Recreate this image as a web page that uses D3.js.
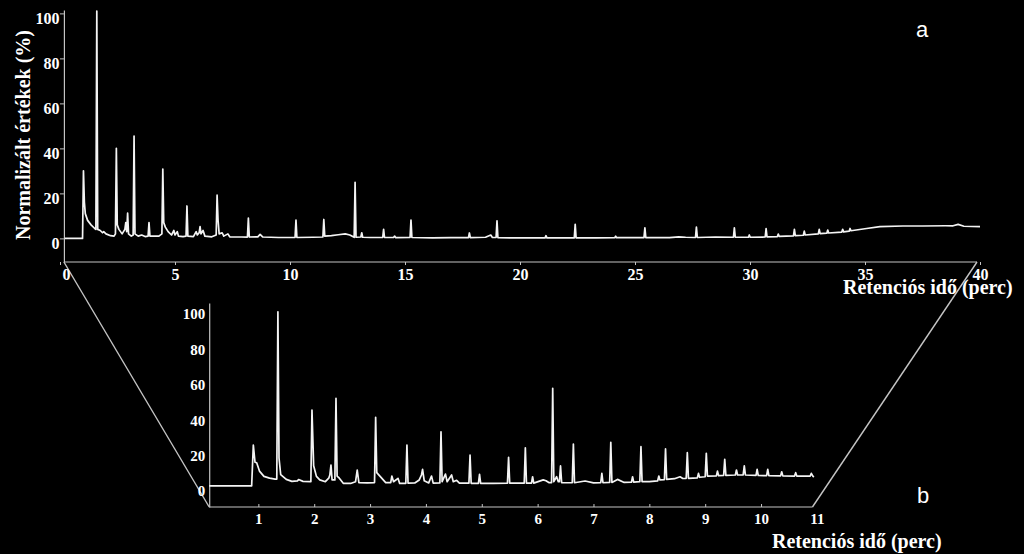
<!DOCTYPE html>
<html>
<head>
<meta charset="utf-8">
<script src="https://cdn.jsdelivr.net/npm/d3@7"></script>
<style>
  html, body { margin: 0; padding: 0; background: #000; }
  svg { display: block; }
  .tick text { fill: #fff; font-family: "Liberation Serif", "Times New Roman", serif; font-weight: bold; }
</style>
</head>
<body>
<svg id="chart" width="1024" height="554"></svg>
<script>
// ---------- DATA ----------
// Panel a: full chromatogram, [retention time (min), normalized value (%)]
const traceA = [
  [0.2,0],[0.98,0],[1.02,30],[1.06,16],[1.1,11],[1.2,8],[1.35,6],[1.5,4.5],[1.56,4],[1.6,101],[1.64,4],
  [1.75,3.5],[1.85,2.5],[1.9,3],[2.0,2],[2.2,1.2],[2.35,1],[2.41,2],[2.45,40],[2.49,6],[2.56,4],[2.7,2],
  [2.82,4],[2.86,7],[2.9,3],[2.94,11.2],[2.98,2],[3.1,1],[3.18,1.5],[3.22,45.5],[3.26,2],[3.4,1],[3.55,1.5],
  [3.7,0.8],[3.83,1],[3.87,7],[3.91,1],[4.1,1],[4.3,1],[4.43,2],[4.47,30.8],[4.51,7],[4.58,5],[4.7,3],
  [4.85,1.5],[4.95,3.5],[5.0,1.5],[5.1,3],[5.15,1],[5.35,0.8],[5.48,1],[5.52,14.4],[5.56,1],[5.8,0.8],
  [5.92,3],[5.97,1.5],[6.05,2.5],[6.09,5.2],[6.13,2],[6.22,3.5],[6.3,1],[6.6,0.7],[6.79,1.5],[6.83,19.2],
  [6.87,8.4],[6.92,2],[7.05,2.5],[7.12,1],[7.3,2],[7.38,0.7],[7.9,0.6],[8.15,0.6],[8.19,9],[8.23,0.6],
  [8.6,0.7],[8.7,1.8],[8.82,0.6],[9.5,0.4],[10.22,0.4],[10.26,8.1],[10.3,0.4],[11.0,0.5],[11.43,0.6],
  [11.47,8.4],[11.51,1],[11.8,1.2],[12.1,1.6],[12.4,2],[12.6,1.5],[12.79,0.5],[12.83,24.9],[12.87,0.5],
  [13.08,0.6],[13.12,2.5],[13.16,0.5],[13.5,0.4],[14.03,0.4],[14.07,4],[14.11,0.4],[14.5,0.4],[14.55,1],
  [14.6,0.3],[15.22,0.4],[15.26,8.1],[15.3,0.4],[16.2,0.2],[17.0,0.3],[17.76,0.3],[17.8,2.4],[17.84,0.3],
  [18.5,0.5],[18.73,1.5],[18.8,0.4],[18.96,0.4],[19.0,7.8],[19.04,0.3],[20.0,0.2],[21.09,0.2],[21.13,1.2],
  [21.17,0.2],[22.36,0.2],[22.4,6.2],[22.44,0.2],[23.3,0.2],[24.12,0.3],[24.16,1],[24.2,0.3],[25.39,0.3],
  [25.43,4.7],[25.47,0.3],[26.5,0.3],[26.9,0.7],[27.2,0.5],[27.63,0.4],[27.67,5],[27.71,0.4],[28.5,0.6],
  [29.28,0.5],[29.32,4.7],[29.36,0.5],[29.93,0.5],[29.97,1.5],[30.01,0.5],[30.66,0.6],[30.7,4.3],
  [30.74,0.7],[31.19,0.8],[31.23,1.9],[31.27,0.9],[31.89,1.1],[31.93,4],[31.97,1.2],[32.32,1.4],
  [32.36,3.2],[32.4,1.5],[32.97,2],[33.01,4],[33.05,2.1],[33.34,2.3],[33.38,3.7],[33.42,2.4],[33.99,2.8],
  [34.03,4],[34.07,2.9],[34.31,3.2],[34.35,4.4],[34.39,3.4],[35.07,4.4],[35.65,5.2],[36.65,5.5],
  [37.5,5.5],[38.5,5.6],[38.83,5.6],[39.05,6.2],[39.3,5.4],[40,5.2]
];

// Panel b: first 11 minutes, [retention time (min), normalized value (%)]
const traceB = [
  [0.12,0.6],[0.88,0.6],[0.91,23.7],[0.94,14],[0.97,13.7],[1.02,9],[1.1,6],[1.2,5],[1.3,4.5],[1.33,4.5],
  [1.35,99],[1.37,16.4],[1.4,7],[1.5,4.3],[1.6,3.2],[1.7,3.5],[1.72,4.2],[1.8,3.2],[1.94,3],[1.96,43.5],
  [1.99,12],[2.04,6],[2.1,4],[2.2,3],[2.26,5],[2.28,6.8],[2.3,12.4],[2.32,4],[2.37,4],[2.39,50.1],
  [2.41,6.2],[2.45,5],[2.52,2.1],[2.65,2],[2.74,3],[2.77,9.6],[2.8,2.5],[2.95,2.3],[3.08,2.5],[3.1,39.4],
  [3.12,8.1],[3.18,6],[3.28,2.5],[3.37,2.5],[3.39,6.2],[3.42,3],[3.5,4.9],[3.53,2],[3.64,2],[3.66,23.7],
  [3.68,2.2],[3.8,2.3],[3.88,4],[3.92,6.8],[3.94,10],[3.97,3.5],[4.05,2.3],[4.1,6.2],[4.13,2.2],[4.25,2.3],
  [4.27,31.2],[4.29,3],[4.35,7.3],[4.38,3],[4.46,6.8],[4.49,3],[4.55,3.8],[4.6,2.2],[4.77,2.2],[4.79,18],
  [4.81,2.1],[4.94,2.1],[4.96,7.2],[4.98,2.1],[5.2,2],[5.46,2.2],[5.48,16.8],[5.5,2.2],[5.76,2.2],
  [5.78,22.2],[5.8,2.2],[5.89,2.2],[5.91,5.8],[5.93,2.2],[6.1,4],[6.15,3.5],[6.2,2.5],[6.25,2.5],
  [6.27,55.8],[6.29,3],[6.34,5.8],[6.37,3],[6.39,3],[6.41,11.9],[6.43,2.4],[6.62,2.4],[6.64,24.3],
  [6.66,2.4],[6.85,3.4],[7.0,2.3],[7.13,2.4],[7.15,7.7],[7.17,2.4],[7.29,2.6],[7.31,25.3],[7.33,2.6],
  [7.43,4.3],[7.55,2.6],[7.68,2.7],[7.7,5.8],[7.72,2.8],[7.83,3],[7.85,22.8],[7.87,3],[8.0,3],[8.15,3.5],
  [8.17,6.2],[8.19,4],[8.27,4.2],[8.29,21.5],[8.31,4.3],[8.45,4.7],[8.55,5.8],[8.6,4.8],[8.66,4.9],
  [8.68,19.4],[8.7,4.9],[8.86,5.2],[8.88,7.7],[8.9,5.5],[9.0,5.8],[9.02,19],[9.04,6.2],[9.2,6.3],[9.22,9],
  [9.24,6.4],[9.33,6.5],[9.35,15.6],[9.37,6.6],[9.54,6.8],[9.56,9.6],[9.58,6.8],[9.68,6.8],[9.7,12],
  [9.72,6.8],[9.91,6.6],[9.93,10],[9.95,6.5],[10.1,6.4],[10.12,10],[10.14,6.4],[10.35,6.3],[10.37,8.6],
  [10.39,6.3],[10.6,6.2],[10.62,8.1],[10.64,6.2],[10.88,6.2],[10.9,7.7],[10.93,6],[10.95,5.8]
];

const ticksXA = [0, 5, 10, 15, 20, 25, 30, 35, 40];
const ticksXB = [1, 2, 3, 4, 5, 6, 7, 8, 9, 10, 11];
const ticksY  = [0, 20, 40, 60, 80, 100];
const extentXA = [0.17, 39.87];   // drawn span of the time axis, panel a
const extentXB = [0.12, 10.92];   // drawn span of the time axis, panel b

const yTitle = "Normalizált értékek (%)";
const xTitle = "Retenciós idő (perc)";
const panelLabels = ["a", "b"];

// ---------- DRAW ----------
const svg = d3.select("#chart");
svg.append("rect").attr("width", 1024).attr("height", 554).attr("fill", "#000");

const axisColor = "#c4c4c4";
const lineColor = "#f4f4f4";

// scales
const xA = d3.scaleLinear().domain([0, 40]).range([60, 980]);
const yA = d3.scaleLinear().domain([-10.5, 101.5]).range([262, 10]);
const xB = d3.scaleLinear().domain([0, 11]).range([202.5, 816.9]);
const yB = d3.scaleLinear().domain([-11.3, 104]).range([507, 303]);

const axisYA = yA.domain()[0], axisYB = yB.domain()[0];

// connector lines (zoom trapezoid)
const conn = svg.append("g").attr("stroke", axisColor).attr("stroke-width", 1.4);
conn.append("line")
  .attr("x1", xA(extentXA[0])).attr("y1", yA(axisYA))
  .attr("x2", xB(extentXB[0])).attr("y2", yB(axisYB));
conn.append("line")
  .attr("x1", xA(extentXA[1])).attr("y1", yA(axisYA))
  .attr("x2", xB(extentXB[1])).attr("y2", yB(axisYB));

// ---- panel a axes ----
const gxA = svg.append("g").attr("transform", `translate(0,${yA(axisYA)})`)
  .call(d3.axisBottom(xA).tickValues(ticksXA).tickSize(3).tickSizeOuter(0).tickPadding(4));
gxA.select(".domain").remove();
gxA.selectAll(".tick line").attr("stroke", axisColor);
gxA.selectAll(".tick text").style("font-size", "16px")
  .attr("dx", d => d === 0 ? 6 : 0);
svg.append("line")
  .attr("x1", xA(extentXA[0])).attr("x2", xA(extentXA[1]))
  .attr("y1", yA(axisYA)).attr("y2", yA(axisYA))
  .attr("stroke", axisColor).attr("stroke-width", 1.2);

const gyA = svg.append("g").attr("transform", `translate(${xA(extentXA[0])},0)`)
  .call(d3.axisLeft(yA).tickValues(ticksY).tickSize(4).tickSizeOuter(0).tickPadding(0.5));
gyA.select(".domain").attr("stroke", axisColor).attr("stroke-width", 1.2);
gyA.selectAll(".tick line").attr("stroke", axisColor);
gyA.selectAll(".tick text").style("font-size", "16px").attr("dy", "0.63em");

// ---- panel b axes ----
const gxB = svg.append("g").attr("transform", `translate(0,${yB(axisYB)})`)
  .call(d3.axisBottom(xB).tickValues(ticksXB).tickSize(-3).tickSizeOuter(0).tickPadding(6));
gxB.select(".domain").remove();
gxB.selectAll(".tick line").attr("stroke", axisColor)
  .attr("display", d => d > extentXB[1] ? "none" : null);
gxB.selectAll(".tick text").style("font-size", "15px");
svg.append("line")
  .attr("x1", xB(extentXB[0])).attr("x2", xB(extentXB[1]))
  .attr("y1", yB(axisYB)).attr("y2", yB(axisYB))
  .attr("stroke", axisColor).attr("stroke-width", 1.2);

const gyB = svg.append("g").attr("transform", `translate(${xB(extentXB[0])},0)`)
  .call(d3.axisLeft(yB).tickValues(ticksY).tickSize(0).tickSizeOuter(0).tickPadding(4));
gyB.select(".domain").attr("stroke", axisColor).attr("stroke-width", 1.2);
gyB.selectAll(".tick text").style("font-size", "15px").attr("dy", "0.59em");

// ---- traces ----
const lineA = d3.line().x(d => xA(d[0])).y(d => yA(d[1]));
const lineB = d3.line().x(d => xB(d[0])).y(d => yB(d[1]));
svg.append("path").datum(traceA).attr("d", lineA)
  .attr("fill", "none").attr("stroke", lineColor).attr("stroke-width", 1.7).attr("stroke-linejoin", "round");
svg.append("path").datum(traceB).attr("d", lineB)
  .attr("fill", "none").attr("stroke", lineColor).attr("stroke-width", 1.7).attr("stroke-linejoin", "round");

// ---- titles ----
const serif = '"Liberation Serif", "Times New Roman", serif';
svg.append("text")
  .attr("transform", "translate(29.5,135) rotate(-90)")
  .attr("text-anchor", "middle")
  .attr("font-family", serif).attr("font-weight", "bold").attr("font-size", 22)
  .attr("textLength", 210).attr("lengthAdjust", "spacingAndGlyphs")
  .attr("fill", "#fff").text(yTitle);

svg.append("text").attr("x", 843).attr("y", 294)
  .attr("font-family", serif).attr("font-weight", "bold").attr("font-size", 20)
  .attr("fill", "#fff").text(xTitle);
svg.append("text").attr("x", 772).attr("y", 548)
  .attr("font-family", serif).attr("font-weight", "bold").attr("font-size", 20)
  .attr("fill", "#fff").text(xTitle);

// panel letters
const sans = '"Liberation Sans", Arial, sans-serif';
svg.append("text").attr("x", 916).attr("y", 37)
  .attr("font-family", sans).attr("font-size", 22).attr("fill", "#fff").text(panelLabels[0]);
svg.append("text").attr("x", 917).attr("y", 503)
  .attr("font-family", sans).attr("font-size", 22).attr("fill", "#fff").text(panelLabels[1]);
</script>
</body>
</html>
